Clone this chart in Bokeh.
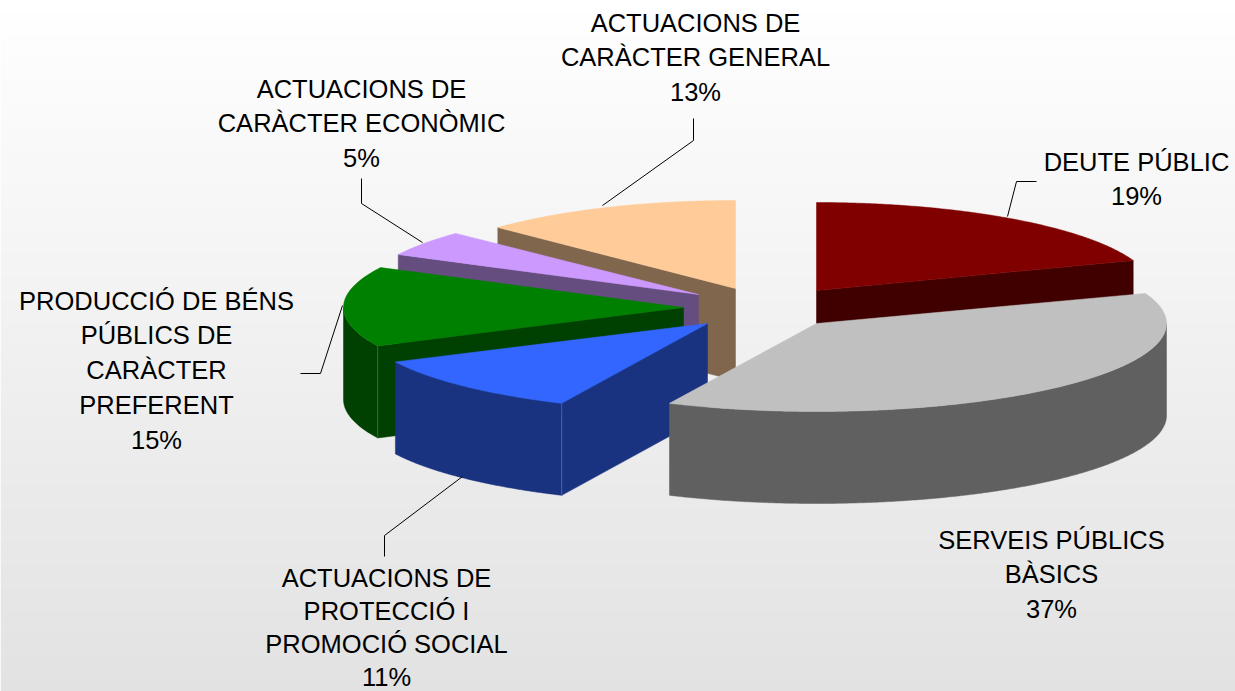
import math
from bokeh.plotting import figure
from bokeh.models import Range1d
from bokeh.core.properties import value
from bokeh.embed import file_html
from bokeh.resources import INLINE

# ---- data (clockwise from 12 o'clock)
categories = [
    ["DEUTE PÚBLIC"],
    ["SERVEIS PÚBLICS", "BÀSICS"],
    ["ACTUACIONS DE", "PROTECCIÓ I", "PROMOCIÓ SOCIAL"],
    ["PRODUCCIÓ DE BÉNS", "PÚBLICS DE", "CARÀCTER", "PREFERENT"],
    ["ACTUACIONS DE", "CARÀCTER ECONÒMIC"],
    ["ACTUACIONS DE", "CARÀCTER GENERAL"],
]
shares = [19.45, 37.45, 10.9, 14.7, 4.7, 12.8]

# ---- styles and layout
top_colors = ["#800000", "#c0c0c0", "#3366ff", "#008000", "#cc99ff", "#ffcc99"]
side_colors = ["#400000", "#606060", "#1a3380", "#004000", "#664d80", "#80664d"]
seam_colors = [None, None, "#4a62a8", "#2f6a2f", None, None]
apex_x = [816, 816, 707, 683, 698, 735]
apex_y = [290, 323, 323, 307, 294, 288]
radius_x = [337, 350, 347, 340, 337, 330]
RY, DEPTH = 88, 92
paint_order = [5, 4, 3, 2, 0, 1]
label_x = [1136, 1051, 386, 156, 361, 695]
label_y = [161, 539, 577, 300, 88, 22]
line_h = [34.8, 34.8, 33.0, 34.8, 34.8, 34.8]
FONT = "Liberation Sans"
FONT_SIZE = "25.5px"
leaders_x = [[1036, 1016, 1007], [], [462, 384, 384], [342, 320, 300], [422, 361, 361], [602, 693, 693]]
leaders_y = [[181, 181, 216], [], [476, 535, 556], [305, 373, 373], [242, 203, 178], [205, 140, 118]]
W, H = 1235, 691
BG_STOPS = ((0, 255), (691, 226))

p = figure(width=W, height=H, output_backend="svg", toolbar_location=None,
           x_range=Range1d(0, W), y_range=Range1d(H, 0),
           min_border=0, outline_line_color=None, margin=(0, 0, 0, 0))
p.axis.visible = False
p.grid.visible = False
p.background_fill_color = "#ffffff"
p.border_fill_color = "#ffffff"

# background gradient as thin bands
bands = 60
tops, bottoms, cols = [], [], []
for i in range(bands):
    a, b = H * i / bands, H * (i + 1) / bands
    mid = (a + b) / 2
    g = BG_STOPS[0][1] + (BG_STOPS[1][1] - BG_STOPS[0][1]) * mid / H
    g = int(round(g))
    tops.append(a); bottoms.append(b + 0.5); cols.append(f"#{g:02x}{g:02x}{g:02x}")
p.quad(left=0, right=W, top=tops, bottom=bottoms, fill_color=cols, line_color=None)


def pt(ax, ay, rx, t, drop=0):
    r = math.radians(t)
    return ax + rx * math.sin(r), ay - RY * math.cos(r) + drop


def arc(ax, ay, rx, t0, t1, drop=0):
    n = max(2, int(abs(t1 - t0)) * 2)
    pts = [pt(ax, ay, rx, t0 + (t1 - t0) * k / n, drop) for k in range(n + 1)]
    return [q[0] for q in pts], [q[1] for q in pts]


starts, acc = [], 0.0
for s in shares:
    starts.append(acc)
    acc += s
scale = 360.0 / acc

for i in paint_order:
    t0 = starts[i] * scale
    t1 = (starts[i] + shares[i]) * scale
    ax, ay, rx = apex_x[i], apex_y[i], radius_x[i]
    side = side_colors[i]
    # radial walls that face the viewer
    for t, sign in ((t0, -1), (t1, 1)):
        if sign * math.sin(math.radians(t)) > 1e-6:
            x1, y1 = pt(ax, ay, rx, t)
            p.patch([ax, x1, x1, ax], [ay, y1, y1 + DEPTH, ay + DEPTH],
                    fill_color=side, line_color=side, line_width=0.5)
    # outer wall
    a0, a1 = max(t0, 90), min(t1, 270)
    if a1 > a0:
        ux, uy = arc(ax, ay, rx, a0, a1)
        lx, ly = arc(ax, ay, rx, a0, a1, DEPTH)
        p.patch(ux + lx[::-1], uy + ly[::-1], fill_color=side, line_color=side, line_width=0.5)
    # seam between the radial wall and the outer wall
    if seam_colors[i]:
        x1, y1 = pt(ax, ay, rx, t0)
        p.line([x1, x1], [y1, y1 + DEPTH], line_color=seam_colors[i], line_width=1)
    # top face
    ux, uy = arc(ax, ay, rx, t0, t1)
    p.patch([ax] + ux, [ay] + uy, fill_color=top_colors[i], line_color=top_colors[i], line_width=0.5)

# leader lines
lx = [x for x in leaders_x if x]
ly = [y for y in leaders_y if y]
p.multi_line(lx, ly, line_color="#000000", line_width=1)

# labels
tx, ty, tt = [], [], []
for i, lines in enumerate(categories):
    rows = lines + [f"{shares[i]:.0f}%"]
    for k, row in enumerate(rows):
        tx.append(label_x[i]); ty.append(label_y[i] + k * line_h[i]); tt.append(row)
p.text(tx, ty, text=tt, text_font=value(FONT), text_font_size=value(FONT_SIZE),
       text_align="center", text_baseline="middle", text_color="#000000")

open("out.html", "w").write(file_html(p, INLINE))
